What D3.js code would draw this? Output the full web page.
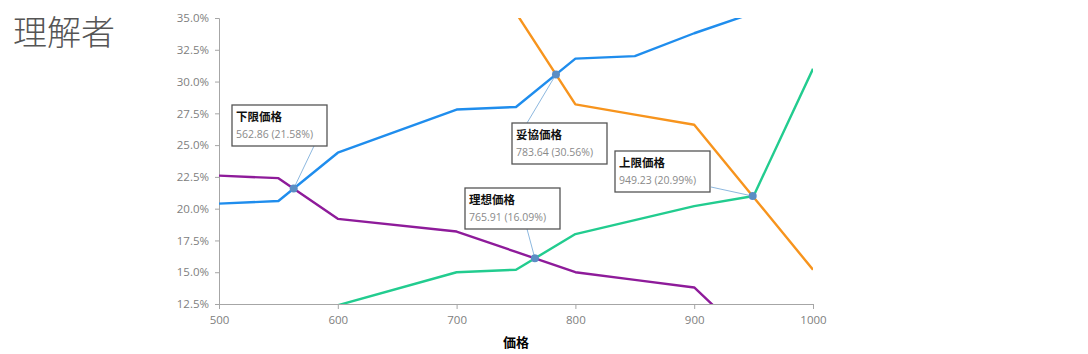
<!DOCTYPE html>
<html>
<head>
<meta charset="utf-8">
<script src="https://cdn.jsdelivr.net/npm/d3@7"></script>
<style>
  body { margin: 0; background: #fff; }
  svg { display: block; }
  .tick text { font-family: "Open Sans", "Liberation Sans", sans-serif; font-size: 11.5px; fill: #808080; }
</style>
</head>
<body>
<div id="chart"></div>
<script>
// price points (x axis)
const prices = [500, 550, 600, 700, 750, 800, 850, 900, 950, 1000]
// series in percent
const tooCheap = [20.4, 20.6, 24.4, 27.8, 28.0, 31.8, 32.0, 33.8, 35.4, 37.0]
const expensive = [60.0, 55.0, 50.0, 40.0, 35.4, 28.2, 27.4, 26.6, 20.9, 15.2]
const tooExpensive = [9.0, 10.5, 12.4, 15.0, 15.2, 18.0, 19.1, 20.2, 21.0, 31.0]
const cheap = [22.6, 22.4, 19.2, 18.2, 16.6, 15.0, 14.4, 13.8, 9.4, 7.0]

const yTicks = [12.5, 15.0, 17.5, 20.0, 22.5, 25.0, 27.5, 30.0, 32.5, 35.0]
const xTicks = [500, 600, 700, 800, 900, 1000]

// callouts
const calloutNames = ["下限価格", "妥協価格", "理想価格", "上限価格"]
const calloutPrice = [562.86, 783.64, 765.91, 949.23]
const calloutPct = [21.58, 30.56, 16.09, 20.99]

const W = 1088, H = 354
const MARGIN = { TOP: 18, LEFT: 219, RIGHT: 275, BOTTOM: 50 }

const svg = d3.select("#chart").append("svg")
    .attr("width", W)
    .attr("height", H)

// title
svg.append("text")
    .attr("x", 13)
    .attr("y", 45)
    .attr("font-family", "'Noto Sans CJK JP', sans-serif")
    .attr("font-weight", 300)
    .attr("font-size", 34)
    .attr("fill", "#555")
    .text("理解者")

const x = d3.scaleLinear().domain([500, 1000]).range([MARGIN.LEFT, W - MARGIN.RIGHT])
const y = d3.scaleLinear().domain([12.5, 35]).range([H - MARGIN.BOTTOM, MARGIN.TOP])

svg.append("defs").append("clipPath").attr("id", "plot")
    .append("rect")
    .attr("x", x(500)).attr("y", y(35))
    .attr("width", x(1000) - x(500)).attr("height", y(12.5) - y(35))

// axes
const yAxis = svg.append("g")
    .attr("transform", `translate(${x(500)},0)`)
    .call(d3.axisLeft(y).tickValues(yTicks).tickSize(4).tickPadding(6)
        .tickFormat(d => d.toFixed(1) + "%"))
const xAxis = svg.append("g")
    .attr("transform", `translate(0,${y(12.5)})`)
    .call(d3.axisBottom(x).tickValues(xTicks).tickSize(5).tickPadding(7)
        .tickFormat(d3.format("d")))
;[yAxis, xAxis].forEach(a => {
    a.select(".domain").attr("stroke", "#a6a6a6")
    a.selectAll(".tick line").attr("stroke", "#a6a6a6")
})

svg.append("text")
    .attr("x", 516)
    .attr("y", 347)
    .attr("text-anchor", "middle")
    .attr("font-family", "'Noto Sans CJK JP', sans-serif")
    .attr("font-weight", 700)
    .attr("font-size", 13)
    .attr("fill", "#000")
    .text("価格")

// lines
const series = [
    { values: cheap, color: "#8e1b9a" },
    { values: tooExpensive, color: "#22cc8f" },
    { values: expensive, color: "#f7941d" },
    { values: tooCheap, color: "#1f8ded" },
]
const line = d3.line().x((d, i) => x(prices[i])).y(d => y(d))
const lines = svg.append("g").attr("clip-path", "url(#plot)")
series.forEach(s => {
    lines.append("path")
        .attr("d", line(s.values))
        .attr("fill", "none")
        .attr("stroke", s.color)
        .attr("stroke-width", 2.4)
        .attr("stroke-linejoin", "round")
})

// callout boxes (box left/top in px, leader start on the box)
const boxPos = [
    { bx: 232, by: 105, lx: 314, ly: 146 },
    { bx: 512, by: 123, lx: 527, ly: 123 },
    { bx: 465, by: 188, lx: 527, ly: 229 },
    { bx: 615, by: 151, lx: 711, ly: 187 },
]
const BW = 95, BH = 41
calloutNames.forEach((name, i) => {
    const p = boxPos[i]
    const px = x(calloutPrice[i]), py = y(calloutPct[i])
    svg.append("line")
        .attr("x1", p.lx).attr("y1", p.ly)
        .attr("x2", px).attr("y2", py)
        .attr("stroke", "#8db8df").attr("stroke-width", 1)
    svg.append("rect")
        .attr("x", p.bx).attr("y", p.by)
        .attr("width", BW).attr("height", BH)
        .attr("fill", "#fff")
        .attr("stroke", "#555").attr("stroke-width", 1.3)
    svg.append("text")
        .attr("x", p.bx + 4).attr("y", p.by + 16)
        .attr("font-family", "'Noto Sans CJK JP', sans-serif")
        .attr("font-size", 11.5)
        .attr("font-weight", 700)
        .attr("fill", "#111")
        .text(name)
    svg.append("text")
        .attr("x", p.bx + 4).attr("y", p.by + 33)
        .attr("font-family", "'Open Sans', 'Liberation Sans', sans-serif")
        .attr("font-size", 10.5)
        .attr("fill", "#8a8a8a")
        .text(`${calloutPrice[i].toFixed(2)} (${calloutPct[i].toFixed(2)}%)`)
    svg.append("circle")
        .attr("cx", px).attr("cy", py).attr("r", 4)
        .attr("fill", "#5b8ec4")
})
</script>
</body>
</html>
